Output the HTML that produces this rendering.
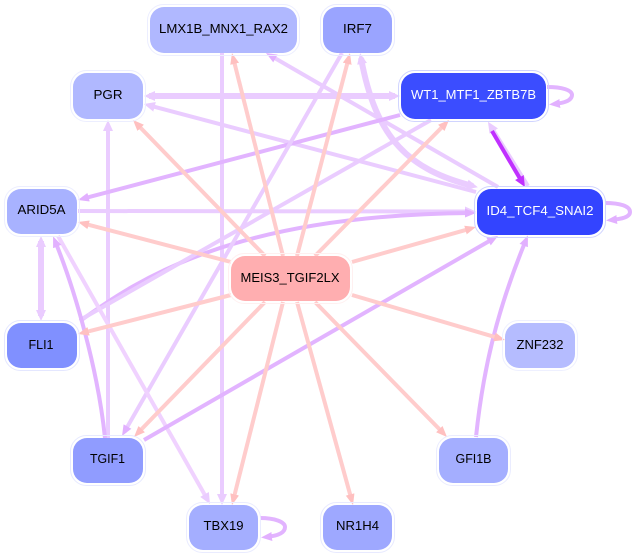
<!DOCTYPE html>
<html>
<head>
<meta charset="utf-8">
<style>
html,body{margin:0;padding:0;background:#fff;width:634px;height:557px;overflow:hidden}
svg{display:block}
text{font-family:"Liberation Sans",sans-serif;font-size:12.5px;text-anchor:middle;fill:#000}
.p{stroke:#ffcccc;stroke-width:4;fill:none}
.m{stroke:#e2b4ff;stroke-width:4;fill:none}
.l{stroke:#eaccff;stroke-width:4;fill:none}
.h{fill:none;stroke-width:1}
</style>
</head>
<body>
<svg width="634" height="557" viewBox="0 0 634 557" xmlns="http://www.w3.org/2000/svg">
<defs>
<marker id="ap" markerUnits="userSpaceOnUse" markerWidth="12" markerHeight="12" viewBox="0 0 12 12" refX="6" refY="6" orient="auto-start-reverse"><path d="M0,1.5 L11,6 L0,10.5 Z" fill="#ffc0c0"/></marker>
<marker id="am" markerUnits="userSpaceOnUse" markerWidth="12" markerHeight="12" viewBox="0 0 12 12" refX="6" refY="6" orient="auto-start-reverse"><path d="M0,1.5 L11,6 L0,10.5 Z" fill="#e2b0ff"/></marker>
<marker id="al" markerUnits="userSpaceOnUse" markerWidth="12" markerHeight="12" viewBox="0 0 12 12" refX="6" refY="6" orient="auto-start-reverse"><path d="M0,1 L11,6 L0,11 Z" fill="#eaccff"/></marker>
<marker id="ad" markerUnits="userSpaceOnUse" markerWidth="12" markerHeight="12" viewBox="0 0 12 12" refX="6" refY="6" orient="auto-start-reverse"><path d="M0,1 L11,6 L0,11 Z" fill="#c030ff"/></marker>
</defs>

<!-- purple edges -->
<path class="l" d="M222,53 L222,500" marker-end="url(#al)"/>
<path class="l" d="M108,438 L108,125" marker-end="url(#al)"/>
<path class="l" style="stroke-width:6" d="M149,96 L395,96" marker-start="url(#al)" marker-end="url(#al)"/>
<path class="l" d="M476,192 L148.8,105.3" marker-end="url(#al)"/>
<path class="l" d="M498,187 L270.3,55.5" marker-end="url(#am)"/>
<path class="l" style="stroke-width:6" d="M473,186 C410,170 376,140 361,58" marker-start="url(#al)" marker-end="url(#al)"/>
<path class="m" d="M400,115 L82.8,198.7" marker-end="url(#am)"/>
<path class="l" d="M78,211 L471,211.5" marker-end="url(#al)"/>
<path class="m" d="M80,321 C140,278 235,215 471,213" marker-end="url(#am)"/>
<path class="l" d="M431,120 L80,320"/>
<path class="l" d="M342,53 L124.5,431.7" marker-end="url(#am)"/>
<path class="l" style="stroke:#f0d2ff" d="M58,236 L207.5,499.6" marker-end="url(#al)"/>
<path class="m" d="M105,438 C98,370 75,290 55,241" marker-end="url(#am)"/>
<path class="l" style="stroke-width:6" d="M41,241 L41,316" marker-start="url(#al)" marker-end="url(#al)"/>
<path class="m" d="M144,440 L493.7,238.5" marker-end="url(#am)"/>
<path class="m" d="M476,437 C483,370 497,310 526,240" marker-end="url(#am)"/>
<path class="l" d="M528,186 L490.6,126" marker-end="url(#al)"/>
<path d="M492,131 L522.4,182.7" stroke="#c030ff" stroke-width="4" fill="none" marker-end="url(#ad)"/>

<!-- self loops -->
<path class="m" d="M547,87 C562,87 572,90 572,95 C572,100 565,103 554,104" marker-end="url(#am)"/>
<path class="m" d="M605,203 C620,203 630,206 630,212 C630,217 622,219 611,220" marker-end="url(#am)"/>
<path class="m" d="M260,518 C275,518 285,522 285,527 C285,533 277,536 266,537" marker-end="url(#am)"/>

<!-- pink edges -->
<path class="p" d="M283,256 L233.2,58" marker-end="url(#ap)"/>
<path class="p" d="M297,256 L348.7,58" marker-end="url(#ap)"/>
<path class="p" d="M265,256 L136.5,123.6" marker-end="url(#ap)"/>
<path class="p" d="M315,256 L445.5,123.6" marker-end="url(#ap)"/>
<path class="p" d="M352,262 L471.2,228.4" marker-end="url(#ap)"/>
<path class="p" d="M352,295 L500.2,338.6" marker-end="url(#ap)"/>
<path class="p" d="M315,302 L443.5,433.4" marker-end="url(#ap)"/>
<path class="p" d="M297,302 L351.7,500.2" marker-end="url(#ap)"/>
<path class="p" d="M283,302 L233.2,500.2" marker-end="url(#ap)"/>
<path class="p" d="M265,302 L137.5,433.4" marker-end="url(#ap)"/>
<path class="p" d="M231,295 L82.8,332.8" marker-end="url(#ap)"/>
<path class="p" d="M231,262 L82.8,223.3" marker-end="url(#ap)"/>

<!-- nodes -->
<rect class="h" stroke="#eceeff" x="147.500" y="4.500" width="152" height="51" rx="16"/>
<rect x="150" y="7" width="147" height="46" rx="14" fill="#b0b8ff"/>
<text x="223.500" y="33" textLength="129" lengthAdjust="spacingAndGlyphs">LMX1B_MNX1_RAX2</text>

<rect class="h" stroke="#e8eaff" x="320.500" y="4.500" width="74" height="51" rx="16"/>
<rect x="323" y="7" width="69" height="46" rx="14" fill="#9aa4ff"/>
<text x="357.500" y="33" textLength="29" lengthAdjust="spacingAndGlyphs">IRF7</text>

<rect class="h" stroke="#eceeff" x="70.500" y="70.500" width="75" height="51" rx="16"/>
<rect x="73" y="73" width="70" height="46" rx="14" fill="#b0b8ff"/>
<text x="108" y="99" textLength="29" lengthAdjust="spacingAndGlyphs">PGR</text>

<rect class="h" stroke="#d0d4ff" x="398.500" y="70.500" width="150" height="51" rx="16"/>
<rect x="401" y="73" width="145" height="46" rx="14" fill="#3b4dff"/>
<text x="473.500" y="99" style="fill:#fff" textLength="125" lengthAdjust="spacingAndGlyphs">WT1_MTF1_ZBTB7B</text>

<rect class="h" stroke="#d0d4ff" x="474.500" y="186.500" width="131" height="51" rx="16"/>
<rect x="477" y="189" width="126" height="46" rx="14" fill="#3344ff"/>
<text x="540" y="215" style="fill:#fff" textLength="107" lengthAdjust="spacingAndGlyphs">ID4_TCF4_SNAI2</text>

<rect class="h" stroke="#eceeff" x="4.500" y="186.500" width="75" height="50" rx="16"/>
<rect x="7" y="189" width="70" height="45" rx="14" fill="#a8b2ff"/>
<text x="41.500" y="214" textLength="48" lengthAdjust="spacingAndGlyphs">ARID5A</text>

<rect class="h" stroke="#e4e7ff" x="4.500" y="320.500" width="75" height="50" rx="16"/>
<rect x="7" y="323" width="70" height="45" rx="14" fill="#8090ff"/>
<text x="41" y="349" textLength="25" lengthAdjust="spacingAndGlyphs">FLI1</text>

<rect class="h" stroke="#fff0f0" x="228.500" y="253.500" width="124" height="50" rx="16"/>
<rect x="231" y="256" width="119" height="45" rx="14" fill="#ffaeb0"/>
<text x="290" y="282" textLength="99" lengthAdjust="spacingAndGlyphs">MEIS3_TGIF2LX</text>

<rect class="h" stroke="#eef0ff" x="502.500" y="320.500" width="75" height="50" rx="16"/>
<rect x="505" y="323" width="70" height="45" rx="14" fill="#b5bcff"/>
<text x="540" y="349" textLength="47" lengthAdjust="spacingAndGlyphs">ZNF232</text>

<rect class="h" stroke="#e6e9ff" x="70.500" y="435.500" width="75" height="50" rx="16"/>
<rect x="73" y="438" width="70" height="45" rx="14" fill="#909cff"/>
<text x="107.500" y="463" textLength="35" lengthAdjust="spacingAndGlyphs">TGIF1</text>

<rect class="h" stroke="#eaecff" x="436.500" y="435.500" width="74" height="50" rx="16"/>
<rect x="439" y="438" width="69" height="45" rx="14" fill="#a4aeff"/>
<text x="473.500" y="463" textLength="36" lengthAdjust="spacingAndGlyphs">GFI1B</text>

<rect class="h" stroke="#eaecff" x="186.500" y="502.500" width="74" height="50" rx="16"/>
<rect x="189" y="505" width="69" height="45" rx="14" fill="#a4aeff"/>
<text x="223.500" y="530" textLength="40" lengthAdjust="spacingAndGlyphs">TBX19</text>

<rect class="h" stroke="#e8eaff" x="320.500" y="502.500" width="74" height="50" rx="16"/>
<rect x="323" y="505" width="69" height="45" rx="14" fill="#9ea8ff"/>
<text x="357.500" y="530" textLength="43" lengthAdjust="spacingAndGlyphs">NR1H4</text>
</svg>
</body>
</html>
